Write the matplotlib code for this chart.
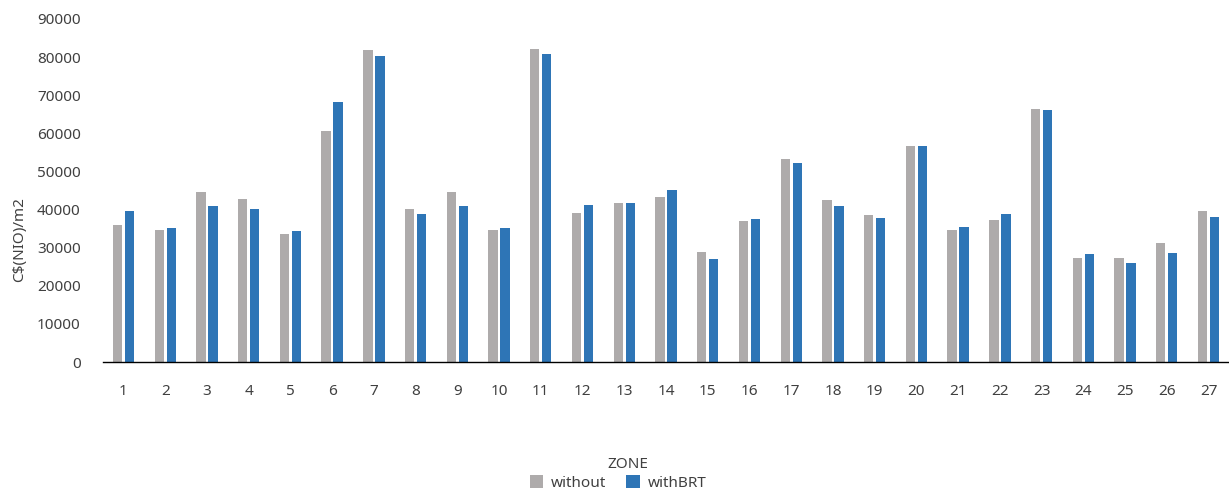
import numpy as np
import matplotlib.pyplot as plt

zones = [str(i) for i in range(1, 28)]
without = [35900, 34600, 44700, 42900, 33700, 60500, 81800, 40200, 44700, 34600,
           82200, 39000, 41700, 43300, 28900, 37100, 53300, 42600, 38500, 56600,
           34600, 37200, 66500, 27300, 27300, 31300, 39500]
with_brt = [39500, 35200, 41000, 40200, 34500, 68100, 80300, 38800, 41000, 35200,
            80800, 41100, 41800, 45200, 27100, 37500, 52100, 40900, 37900, 56600,
            35300, 38900, 66000, 28300, 26000, 28500, 38100]

plt.rcParams['font.family'] = ['Noto Sans', 'DejaVu Sans']
txt = '#404040'

fig = plt.figure(figsize=(12.29, 4.95), dpi=100)
ax = fig.add_axes([103 / 1229, 1 - 362 / 495, 1 - 103 / 1229, (362 - 19) / 495])

x = np.arange(len(zones))
w = 0.223
ax.bar(x - 0.144, without, w, color='#AEABAB', label='without')
ax.bar(x + 0.144, with_brt, w, color='#2E75B6', label='withBRT')

ax.set_xlim(-0.49, len(zones) - 0.51)
ax.set_ylim(0, 90000)
ax.set_yticks(np.arange(0, 90001, 10000))
ax.set_xticks(x)
ax.set_xticklabels(zones)
ax.tick_params(axis='both', length=0, labelsize=11, labelcolor=txt)
ax.tick_params(axis='y', pad=16)
ax.tick_params(axis='x', pad=16)
for s in ['top', 'right', 'left']:
    ax.spines[s].set_visible(False)
ax.spines['bottom'].set_color('black')
ax.spines['bottom'].set_linewidth(1.0)

fig.text(20 / 1229, 1 - 240 / 495, 'C$(NIO)/m2', rotation=90, ha='center', va='center',
         fontsize=11, color=txt)
fig.text(628 / 1229, 1 - 465 / 495, 'ZONE', ha='center', va='center', fontsize=11, color=txt)
fig.legend(loc='center', bbox_to_anchor=(618 / 1229, 1 - 483 / 495), ncol=2, frameon=False,
           fontsize=11, handlelength=0.9, handleheight=0.9, handletextpad=0.5,
           columnspacing=1.3, labelcolor=txt)

fig.savefig('out.png', dpi=100)
